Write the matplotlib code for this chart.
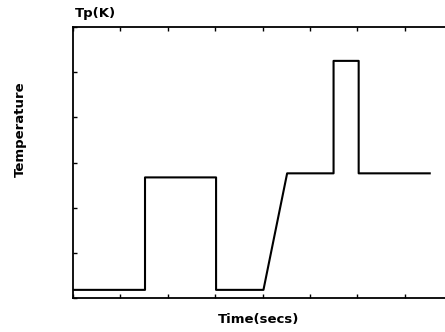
import matplotlib.pyplot as plt

# temperature program (time in divisions, temperature in divisions)
time_pts = [0, 1.52, 1.52, 3.02, 3.02, 4.02, 4.52, 5.5, 5.5, 6.03, 6.03, 7.53]
temp_pts = [0.18, 0.18, 2.67, 2.67, 0.18, 0.18, 2.76, 2.76, 5.25, 5.25, 2.76, 2.76]

fig = plt.figure(figsize=(4.45, 3.32), dpi=100)
ax = fig.add_axes([73 / 445, 34 / 332, 379 / 445, 271 / 332])

ax.plot(time_pts, temp_pts, color='black', linewidth=1.5)

ax.set_xlim(0, 8)
ax.set_ylim(0, 6)
ax.set_xticks(range(0, 9))
ax.set_yticks(range(0, 7))
ax.set_xticklabels([])
ax.set_yticklabels([])
ax.tick_params(direction='in', length=3, width=1, top=True, right=False)
ax.spines['right'].set_visible(False)
for s in ['left', 'top', 'bottom']:
    ax.spines[s].set_linewidth(1.3)

lbl = dict(fontsize=9.5, fontweight='bold', family='DejaVu Sans')
fig.text(75 / 445, 1 - 14 / 332, 'Tp(K)', va='center', ha='left', **lbl)
fig.text(20 / 445, 1 - 129 / 332, 'Temperature', rotation=90, va='center', ha='center', **lbl)
fig.text(259 / 445, 1 - 320 / 332, 'Time(secs)', va='center', ha='center', **lbl)

fig.savefig('out.png', dpi=100)
